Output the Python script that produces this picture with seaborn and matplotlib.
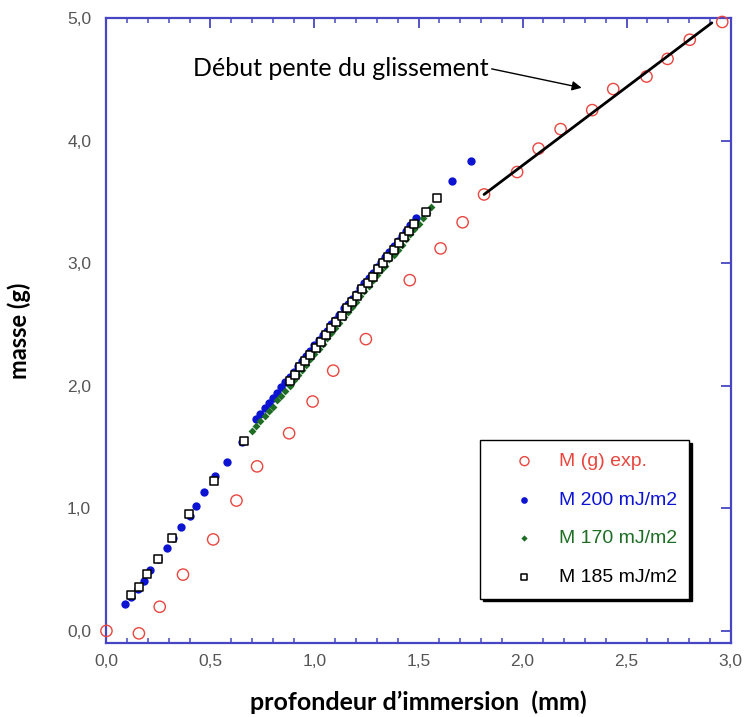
import numpy as np
import pandas as pd
import matplotlib
matplotlib.use("Agg")
import matplotlib.pyplot as plt
import seaborn as sns

# experimental mass (red open circles)
exp_x = [0.0, 0.156, 0.256, 0.368, 0.513, 0.625, 0.724, 0.878, 0.991, 1.09, 1.247, 1.458,
         1.606, 1.712, 1.815, 1.974, 2.077, 2.183, 2.335, 2.436, 2.596, 2.697, 2.804, 2.96]
exp_y = [0.0, -0.02, 0.197, 0.459, 0.746, 1.063, 1.342, 1.612, 1.871, 2.123, 2.38, 2.861,
         3.12, 3.333, 3.56, 3.743, 3.934, 4.093, 4.248, 4.42, 4.522, 4.666, 4.822, 4.967]

# M 200 mJ/m2 (blue dots)
m200_x = [0.09, 0.12, 0.15, 0.18, 0.21, 0.25, 0.29, 0.32, 0.36, 0.40, 0.43, 0.47, 0.52, 0.58, 0.65,
          0.72, 0.74, 0.76, 0.78, 0.80, 0.82, 0.84, 0.86, 0.88, 0.90, 0.92, 0.94, 0.96, 0.98,
          1.00, 1.02, 1.04, 1.06, 1.08, 1.10, 1.12, 1.14, 1.16, 1.18, 1.20, 1.22, 1.24, 1.26,
          1.28, 1.30, 1.32, 1.34, 1.36, 1.38, 1.40, 1.42, 1.44, 1.46, 1.49, 1.66, 1.75]
m200_y = [0.22, 0.28, 0.34, 0.41, 0.50, 0.59, 0.68, 0.76, 0.85, 0.94, 1.02, 1.13, 1.26, 1.38, 1.54,
          1.73, 1.77, 1.82, 1.86, 1.90, 1.94, 1.99, 2.03, 2.07, 2.11, 2.16, 2.20, 2.24, 2.28,
          2.33, 2.37, 2.41, 2.45, 2.50, 2.54, 2.58, 2.63, 2.67, 2.71, 2.75, 2.80, 2.84, 2.88,
          2.92, 2.97, 3.01, 3.05, 3.09, 3.14, 3.18, 3.22, 3.26, 3.31, 3.37, 3.67, 3.83]

# M 170 mJ/m2 (green)
m170_x = [0.70, 0.72, 0.74, 0.76, 0.78, 0.80, 0.82, 0.84, 0.86, 0.88, 0.90, 0.92, 0.94, 0.96,
          0.98, 1.00, 1.02, 1.04, 1.06, 1.08, 1.10, 1.12, 1.14, 1.16, 1.18, 1.20, 1.22, 1.24,
          1.26, 1.28, 1.30, 1.32, 1.34, 1.36, 1.38, 1.40, 1.42, 1.44, 1.46, 1.48, 1.50, 1.52,
          1.54, 1.56]
m170_y = [1.63, 1.67, 1.71, 1.75, 1.79, 1.83, 1.88, 1.92, 1.96, 2.00, 2.05, 2.09, 2.13, 2.17,
          2.22, 2.26, 2.30, 2.34, 2.39, 2.43, 2.47, 2.51, 2.56, 2.60, 2.64, 2.68, 2.73, 2.77,
          2.81, 2.86, 2.90, 2.94, 2.98, 3.03, 3.07, 3.11, 3.15, 3.20, 3.24, 3.28, 3.32, 3.37,
          3.41, 3.46]

# M 185 mJ/m2 (black open squares)
m185_x = [0.12, 0.157, 0.195, 0.248, 0.317, 0.396, 0.516, 0.662,
          0.88, 0.905, 0.93, 0.955, 0.98, 1.005, 1.03, 1.055, 1.08, 1.105, 1.13, 1.155, 1.18,
          1.205, 1.23, 1.255, 1.28, 1.305, 1.33, 1.355, 1.38, 1.405, 1.43, 1.455, 1.48, 1.535, 1.59]
m185_y = [0.29, 0.36, 0.46, 0.59, 0.76, 0.95, 1.22, 1.55,
          2.04, 2.09, 2.15, 2.20, 2.25, 2.31, 2.36, 2.41, 2.47, 2.52, 2.57, 2.63, 2.68,
          2.73, 2.79, 2.84, 2.89, 2.95, 3.00, 3.05, 3.11, 3.16, 3.21, 3.26, 3.32, 3.42, 3.53]

# slope line
slope_x = [1.815, 2.91]
slope_y = [3.56, 4.96]

x_ticks = [0.0, 0.5, 1.0, 1.5, 2.0, 2.5, 3.0]
x_tick_labels = ["0,0", "0,5", "1,0", "1,5", "2,0", "2,5", "3,0"]
y_ticks = [0.0, 1.0, 2.0, 3.0, 4.0, 5.0]
y_tick_labels = ["0,0", "1,0", "2,0", "3,0", "4,0", "5,0"]

red = "#e8463f"
blue = "#0c14d2"
green = "#1d6e24"
axis_blue = "#4646c4"

sns.set_theme(style="white")
plt.rcParams["font.family"] = ["Liberation Sans", "DejaVu Sans"]

fig = plt.figure(figsize=(7.47, 7.17), dpi=100)
ax = fig.add_axes([0.1425, 0.103, 0.8355, 0.872])

sns.scatterplot(x=exp_x, y=exp_y, marker="o", s=66, color=red, facecolor="none",
                edgecolor=red, linewidth=1.0, label="M (g) exp.", ax=ax, clip_on=False, zorder=3)
sns.scatterplot(x=m200_x, y=m200_y, marker="o", s=36, color=blue, edgecolor=blue,
                linewidth=0, label="M 200 mJ/m2", ax=ax, zorder=4)
sns.scatterplot(x=m170_x, y=m170_y, marker="D", s=16, color=green, edgecolor=green,
                linewidth=0, label="M 170 mJ/m2", ax=ax, zorder=5)
sns.scatterplot(x=m185_x, y=m185_y, marker="s", s=26, color="black", facecolor="white",
                edgecolor="black", linewidth=1.1, label="M 185 mJ/m2", ax=ax, zorder=6)
sns.lineplot(x=slope_x, y=slope_y, color="black", linewidth=2, ax=ax, zorder=7, legend=False)

ax.annotate("Début pente du glissement", xy=(2.284, 4.43), xytext=(0.415, 4.59),
            fontsize=18, family=["Lato", "DejaVu Sans"], color="black", ha="left", va="center",
            arrowprops=dict(arrowstyle="-|>", color="black", lw=1.0, relpos=(1.0, 0.5),
                            shrinkA=0, shrinkB=0, mutation_scale=14))

ax.set_xlim(0, 3.0)
ax.set_ylim(-0.1, 5.0)
ax.set_xticks(x_ticks)
ax.set_xticklabels(x_tick_labels)
ax.set_yticks(y_ticks)
ax.set_yticklabels(y_tick_labels)
ax.set_xticks(np.arange(0, 3.01, 0.1), minor=True)

ax.tick_params(axis="both", which="major", direction="in", length=7, width=1.3,
               color=axis_blue, labelcolor="#555555", labelsize=12.5)
ax.tick_params(axis="x", which="major", top=True, pad=8)
ax.tick_params(axis="y", which="major", right=True, pad=11)
ax.tick_params(axis="x", which="minor", direction="in", length=3.5, width=1.1,
               color=axis_blue, top=True, bottom=True)

for sp in ax.spines.values():
    sp.set_color(axis_blue)
    sp.set_linewidth(1.6)

ax.set_xlabel("profondeur d\u2019immersion  (mm)", fontsize=18, fontweight="bold",
              family=["Lato", "DejaVu Sans"], color="black")
ax.set_ylabel("masse (g)", fontsize=17, fontweight="bold",
              family=["Lato", "DejaVu Sans"], color="black")
ax.xaxis.set_label_coords(0.5, -0.076)
ax.yaxis.set_label_coords(-0.121, 0.5)

leg = ax.legend(loc="center", bbox_to_anchor=(0.766, 0.198), fontsize=14, frameon=True,
                fancybox=False, shadow={"color": "black", "alpha": 1.0}, borderpad=0.64,
                labelspacing=1.08, handletextpad=0.1, borderaxespad=0, handlelength=3.3,
                markerscale=0.8)
leg.get_frame().set_edgecolor("black")
leg.get_frame().set_linewidth(1.0)
leg.get_frame().set_alpha(1.0)
for txt, col in zip(leg.get_texts(), [red, blue, green, "black"]):
    txt.set_color(col)

fig.savefig("out.png", dpi=100)
